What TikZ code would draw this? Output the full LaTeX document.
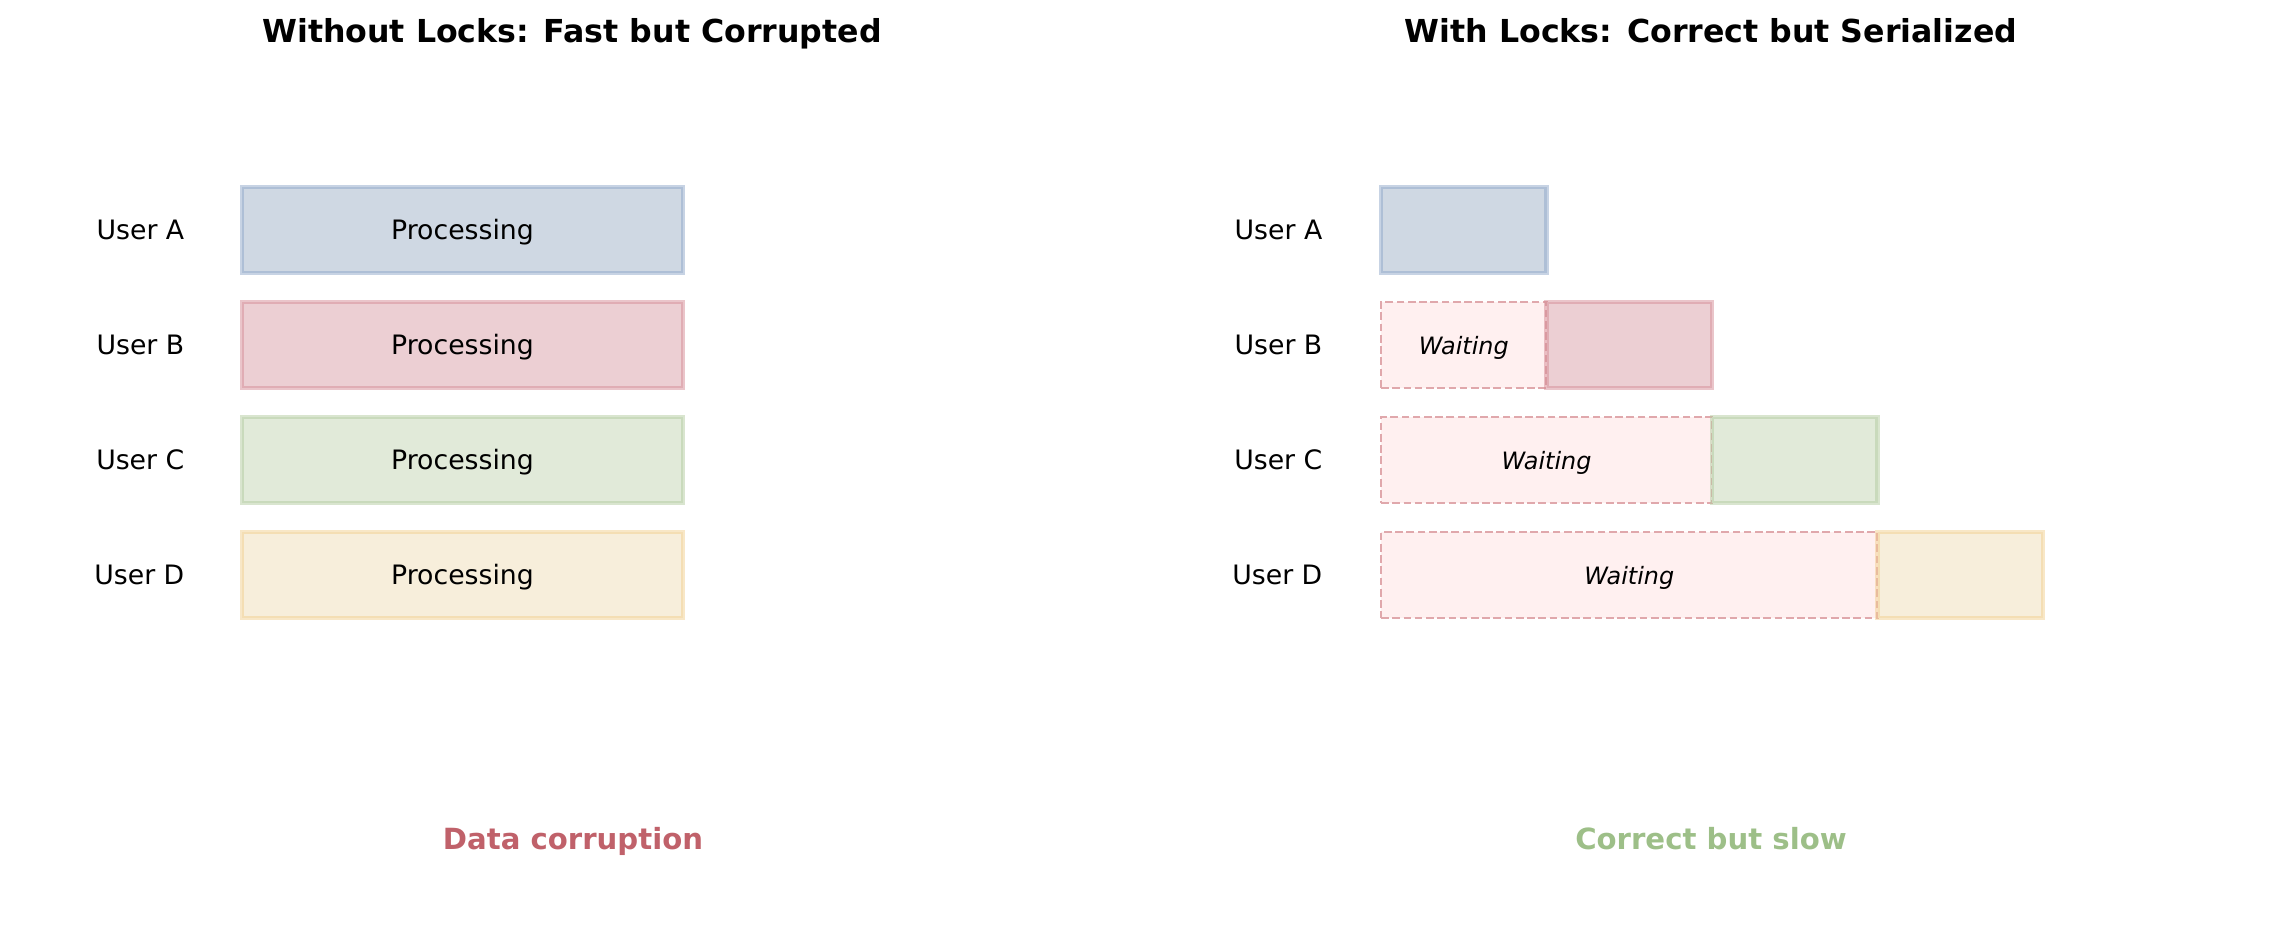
\documentclass[tikz,border=0pt]{standalone}
\usepackage{fontspec}
\setmainfont{DejaVu Sans}

\definecolor{blueFill}{HTML}{CFD8E3}
\definecolor{blueLine}{HTML}{8FA7CA}
\definecolor{redFill}{HTML}{ECCFD3}
\definecolor{redLine}{HTML}{D68C96}
\definecolor{greenFill}{HTML}{E1EAD9}
\definecolor{greenLine}{HTML}{B3CBA0}
\definecolor{yellowFill}{HTML}{F7EEDB}
\definecolor{yellowLine}{HTML}{F2CF8F}
\definecolor{waitFill}{HTML}{FFF0F0}
\definecolor{waitLine}{HTML}{E0A8AC}
\definecolor{badText}{HTML}{C0616A}
\definecolor{goodText}{HTML}{9DBF88}

\tikzset{
  bar/.style={rectangle, inner sep=0pt, outer sep=0pt, minimum height=0.86cm, anchor=west,
    text height=0.75em, text depth=0.22em,
    line width=1.2pt, draw opacity=0.5, font=\fontsize{7.6}{9}\selectfont},
  wait/.style={rectangle, inner sep=0pt, outer sep=0pt, minimum height=0.86cm, anchor=west,
    text height=0.75em, text depth=0.22em,
    fill=waitFill, draw=waitLine, line width=0.75pt, dash pattern=on 2.2pt off 1pt,
    font=\fontsize{6.8}{8}\selectfont\itshape},
  user/.style={anchor=east, inner sep=0pt, text height=0.75em, text depth=0.22em,
    font=\fontsize{7.6}{9}\selectfont},
  paneltitle/.style={text height=0.75em, text depth=0.22em, font=\fontsize{9}{11}\selectfont\bfseries},
  verdict/.style={text height=0.75em, text depth=0.22em, font=\fontsize{8.3}{10}\selectfont\bfseries}
}

\begin{document}
\begin{tikzpicture}
        \useasboundingbox (0,0) rectangle (22.84,-9.40);
        \node[paneltitle] (tleft)  at (5.72,-0.33)  {Without Locks: Fast but Corrupted};
        \node[paneltitle] (tright) at (17.11,-0.33) {With Locks: Correct but Serialized};
        % without locks
        \draw (2.42,-2.30) node[bar,fill=blueFill,draw=blueLine,minimum width=4.41cm]     (pa) {Processing};
        \draw (2.42,-3.45) node[bar,fill=redFill,draw=redLine,minimum width=4.41cm]       (pb) {Processing};
        \draw (2.42,-4.60) node[bar,fill=greenFill,draw=greenLine,minimum width=4.41cm]   (pc) {Processing};
        \draw (2.42,-5.75) node[bar,fill=yellowFill,draw=yellowLine,minimum width=4.41cm] (pd) {Processing};
        \node[user] (ua) at (1.85,-2.30) {User A};
        \node[user] (ub) at (1.85,-3.45) {User B};
        \node[user] (uc) at (1.85,-4.60) {User C};
        \node[user] (ud) at (1.85,-5.75) {User D};
        % with locks
        \draw (13.81,-3.45) node[wait,minimum width=1.655cm] (wb) {Waiting};
        \draw (13.81,-4.60) node[wait,minimum width=3.31cm]  (wc) {Waiting};
        \draw (13.81,-5.75) node[wait,minimum width=4.965cm] (wd) {Waiting};
        \draw (13.81,-2.30) node[bar,fill=blueFill,draw=blueLine,minimum width=1.655cm] (qa) {};
        \draw (wb.east) node[bar,fill=redFill,draw=redLine,minimum width=1.655cm]       (qb) {};
        \draw (wc.east) node[bar,fill=greenFill,draw=greenLine,minimum width=1.655cm]   (qc) {};
        \draw (wd.east) node[bar,fill=yellowFill,draw=yellowLine,minimum width=1.655cm] (qd) {};
        \node[user] (va) at (13.23,-2.30) {User A};
        \node[user] (vb) at (13.23,-3.45) {User B};
        \node[user] (vc) at (13.23,-4.60) {User C};
        \node[user] (vd) at (13.23,-5.75) {User D};
        % outcome
        \node[verdict,text=badText]  (bad)  at (5.73,-8.40)  {Data corruption};
        \node[verdict,text=goodText] (good) at (17.11,-8.40) {Correct but slow};
    \end{tikzpicture}
\end{document}
